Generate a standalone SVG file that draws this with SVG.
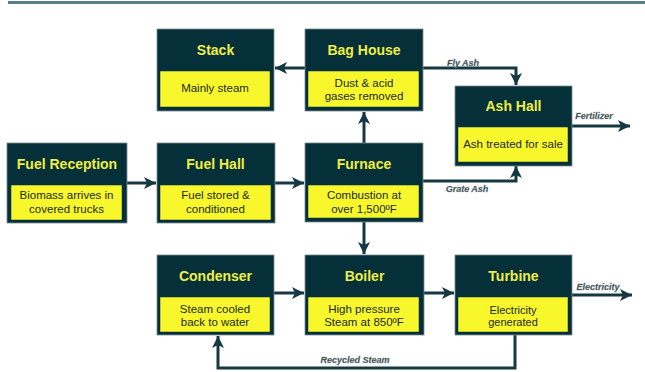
<svg xmlns="http://www.w3.org/2000/svg" width="645" height="372" viewBox="0 0 645 372">
<defs>
<style>
.box{fill:#05303a;stroke:#7a8a8e;stroke-width:0.8}
.body{fill:#f7f72c;stroke:#05303a;stroke-width:0.5}
.title{font-family:"Liberation Sans",Arial,sans-serif;font-weight:bold;font-size:14px;fill:#eeee44;text-anchor:middle}
.txt{font-family:"Liberation Sans",Arial,sans-serif;font-size:11.5px;fill:#1c2a20;text-anchor:middle}
.lbl{font-family:"Liberation Sans",Arial,sans-serif;font-weight:bold;font-style:italic;font-size:9px;fill:#2a3a40;stroke:#8a9a9e;stroke-width:0.3;text-anchor:middle}
.con{fill:none;stroke:#163840;stroke-width:3;marker-end:url(#ah)}
.conn{fill:none;stroke:#163840;stroke-width:3}
</style>
<marker id="ah" markerUnits="userSpaceOnUse" markerWidth="14" markerHeight="14" refX="12" refY="6" orient="auto">
<path d="M0,0 L12,6 L0,12 L3,6 Z" fill="#163840"/>
</marker>
</defs>
<rect x="8" y="1" width="637" height="3" fill="#5b7d8e"/>
<g id="connectors">
<path class="con" d="M127,183 H156"/>
<path class="con" d="M275,183 H304"/>
<path class="con" d="M364,143 V112"/>
<path class="con" d="M305,68 H275"/>
<path class="con" d="M423,68 H516 V85"/>
<path class="con" d="M423,181 H516 V166"/>
<path class="con" d="M364,222 V254"/>
<path class="con" d="M274,293 H304"/>
<path class="con" d="M424,293 H454"/>
<path class="con" d="M572,295 H632"/>
<path class="con" d="M572,126 H630"/>
<path class="con" d="M515,335 V368 H218 V336"/>
<text class="lbl" x="463" y="66">Fly Ash</text>
<text class="lbl" x="594" y="119">Fertilizer</text>
<text class="lbl" x="467" y="192">Grate Ash</text>
<text class="lbl" x="598" y="290">Electricity</text>
<text class="lbl" x="355" y="363">Recycled Steam</text>
</g>
<g id="stack">
<rect class="box" x="157" y="29" width="117" height="82"/>
<rect class="body" x="160" y="71" width="110" height="36"/>
<text class="title" x="215.5" y="55">Stack</text>
<text class="txt" x="215" y="92">Mainly steam</text>
</g>
<g id="baghouse">
<rect class="box" x="305" y="29" width="118" height="82"/>
<rect class="body" x="308" y="71" width="111" height="36"/>
<text class="title" x="364" y="55">Bag House</text>
<text class="txt" x="364" y="87">Dust &amp; acid</text>
<text class="txt" x="364" y="100">gases removed</text>
</g>
<g id="ashhall">
<rect class="box" x="455" y="86" width="117" height="80"/>
<rect class="body" x="458" y="127" width="110" height="35"/>
<text class="title" x="513.5" y="111">Ash Hall</text>
<text class="txt" x="513" y="148">Ash treated for sale</text>
</g>
<g id="fuelreception">
<rect class="box" x="7" y="143" width="120" height="80"/>
<rect class="body" x="11" y="185" width="111" height="35"/>
<text class="title" x="67" y="169">Fuel Reception</text>
<text class="txt" x="66.5" y="199">Biomass arrives in</text>
<text class="txt" x="66.5" y="213">covered trucks</text>
</g>
<g id="fuelhall">
<rect class="box" x="157" y="143" width="118" height="80"/>
<rect class="body" x="160" y="185" width="111" height="35"/>
<text class="title" x="215.5" y="169">Fuel Hall</text>
<text class="txt" x="215.5" y="199">Fuel stored &amp;</text>
<text class="txt" x="215.5" y="213">conditioned</text>
</g>
<g id="furnace">
<rect class="box" x="305" y="143" width="118" height="79"/>
<rect class="body" x="308" y="185" width="111" height="33"/>
<text class="title" x="364" y="169">Furnace</text>
<text class="txt" x="364" y="199">Combustion at</text>
<text class="txt" x="364" y="213">over 1,500ºF</text>
</g>
<g id="condenser">
<rect class="box" x="157" y="255" width="117" height="80"/>
<rect class="body" x="160" y="297" width="110" height="35"/>
<text class="title" x="215.5" y="281">Condenser</text>
<text class="txt" x="215" y="313">Steam cooled</text>
<text class="txt" x="215" y="326">back to water</text>
</g>
<g id="boiler">
<rect class="box" x="305" y="255" width="119" height="80"/>
<rect class="body" x="308" y="297" width="111" height="35"/>
<text class="title" x="364.5" y="281">Boiler</text>
<text class="txt" x="364" y="313">High pressure</text>
<text class="txt" x="364" y="326">Steam at 850ºF</text>
</g>
<g id="turbine">
<rect class="box" x="455" y="255" width="117" height="80"/>
<rect class="body" x="458" y="297" width="110" height="35"/>
<text class="title" x="513.5" y="281">Turbine</text>
<text class="txt" x="513" y="314" style="font-size:11px">Electricity</text>
<text class="txt" x="513" y="326" style="font-size:11px">generated</text>
</g>
</svg>
